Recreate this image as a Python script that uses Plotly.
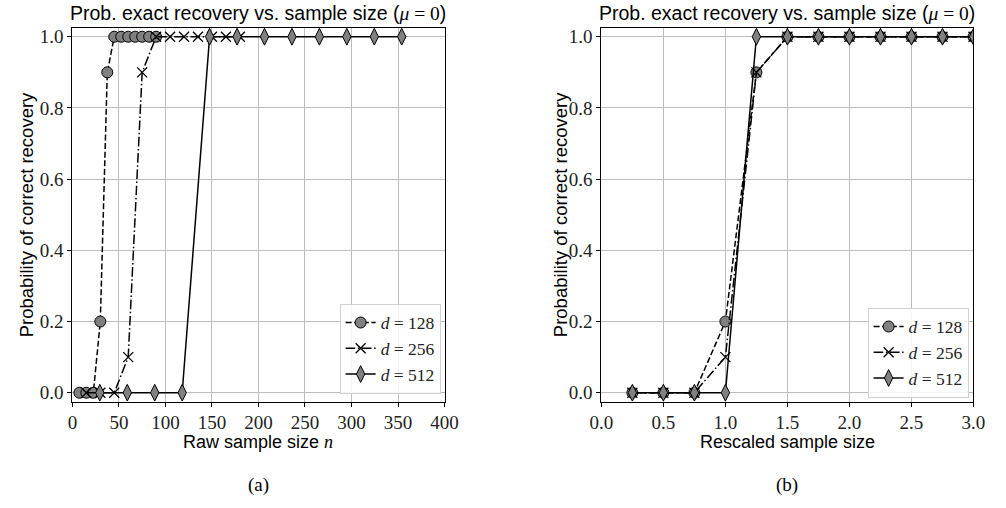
import plotly.graph_objects as go

# ---- data ----
rescaled = [0.25, 0.5, 0.75, 1.0, 1.25, 1.5, 1.75, 2.0, 2.25, 2.5, 2.75, 3.0]
n_128 = [7.5, 15, 22.5, 30, 37.5, 45, 52.5, 60, 67.5, 75, 82.5, 90]
n_256 = [15, 30, 45, 60, 75, 90, 105, 120, 135, 150, 165, 180]
n_512 = [29.5, 59, 88.5, 118, 147.5, 177, 206.5, 236, 265.5, 295, 324.5, 354]
p_128 = [0, 0, 0, 0.2, 0.9, 1, 1, 1, 1, 1, 1, 1]
p_256 = [0, 0, 0, 0.1, 0.9, 1, 1, 1, 1, 1, 1, 1]
p_512 = [0, 0, 0, 0, 1, 1, 1, 1, 1, 1, 1, 1]
labels = ["<i>d</i> = 128", "<i>d</i> = 256", "<i>d</i> = 512"]
x_ticks_left = [0, 50, 100, 150, 200, 250, 300, 350, 400]
x_ticks_right = [0.0, 0.5, 1.0, 1.5, 2.0, 2.5, 3.0]
y_ticks = [0.0, 0.2, 0.4, 0.6, 0.8, 1.0]

W, H = 1006, 508
SERIF = "Liberation Serif"
SANS = "Liberation Sans"

styles = [
    dict(dash="6px,2.6px", marker=dict(symbol="circle", size=11, color="#808080",
                                       line=dict(color="black", width=1))),
    dict(dash="9.6px,2.6px,1.5px,2.6px", marker=dict(symbol="x-thin", size=10, color="black",
                                                     line=dict(color="black", width=1.3))),
    dict(dash="solid", marker=dict(symbol="diamond-tall", size=12, color="#808080",
                                   line=dict(color="black", width=1))),
]

fig = go.Figure()
left_x = [n_128, n_256, n_512]
ys = [p_128, p_256, p_512]
for i in range(3):
    fig.add_trace(go.Scatter(x=left_x[i], y=ys[i], mode="lines+markers", name=labels[i],
                             line=dict(color="black", width=1.5, dash=styles[i]["dash"]),
                             marker=styles[i]["marker"], xaxis="x", yaxis="y", legend="legend"))
for i in range(3):
    fig.add_trace(go.Scatter(x=rescaled, y=ys[i], mode="lines+markers", name=labels[i],
                             line=dict(color="black", width=1.5, dash=styles[i]["dash"]),
                             marker=styles[i]["marker"], xaxis="x2", yaxis="y2", legend="legend2"))

def px_x(p):
    return p / W

def px_y(p):
    return 1 - p / H

L0, L1 = 62, 444
R0, R1 = 605, 987
T, B = 27, 403

axis_common = dict(showline=True, mirror=True, linecolor="black", linewidth=1,
                   ticks="outside", ticklen=4, tickcolor="black", tickwidth=1,
                   showgrid=True, gridcolor="#bdbdbd", gridwidth=1, zeroline=False,
                   tickfont=dict(family=SERIF, size=19, color="#222"))

legend_common = dict(xanchor="right", yanchor="bottom",
                     bgcolor="rgba(255,255,255,0.85)", bordercolor="#d0d0d0", borderwidth=1,
                     font=dict(family=SERIF, size=17.5, color="#222"), tracegroupgap=0)

fig.update_layout(
    width=W, height=H, margin=dict(l=0, r=0, t=0, b=0),
    paper_bgcolor="white", plot_bgcolor="white",
    xaxis=dict(domain=[px_x(L0), px_x(L1)], range=[0, 400], tickvals=x_ticks_left,
               anchor="y", **axis_common),
    yaxis=dict(domain=[px_y(B), px_y(T)], range=[-0.025, 1.025], tickvals=y_ticks,
               tickformat=".1f", anchor="x", **axis_common),
    xaxis2=dict(domain=[px_x(R0), px_x(R1)], range=[0, 3], tickvals=x_ticks_right,
                tickformat=".1f", anchor="y2", **axis_common),
    yaxis2=dict(domain=[px_y(B), px_y(T)], range=[-0.025, 1.025], tickvals=y_ticks,
                tickformat=".1f", anchor="x2", **axis_common),
    legend=dict(x=px_x(L1 - 4), y=px_y(B - 8), **legend_common),
    legend2=dict(x=px_x(R1 - 5), y=px_y(B - 4), **legend_common),
    showlegend=True,
)

title_txt = ("Prob. exact recovery vs. sample size (<span style='font-family:Liberation Serif'>"
             "<i>μ</i> = 0</span>)")
ann = []
for (a, b), xl, cap in [((L0, L1), "Raw sample size <span style='font-family:Liberation Serif'><i>n</i></span>", "(a)"),
                        ((R0, R1), "Rescaled sample size", "(b)")]:
    cx = px_x((a + b) / 2)
    ann.append(dict(text=title_txt, x=cx, y=px_y(12), xref="paper", yref="paper",
                    showarrow=False, xanchor="center", yanchor="middle",
                    font=dict(family=SANS, size=19.5, color="black")))
    ann.append(dict(text=xl, x=cx, y=px_y(444), xref="paper", yref="paper",
                    showarrow=False, xanchor="center", yanchor="middle",
                    font=dict(family=SANS, size=18, color="black")))
    ann.append(dict(text=cap, x=cx, y=px_y(487), xref="paper", yref="paper",
                    showarrow=False, xanchor="center", yanchor="middle",
                    font=dict(family=SERIF, size=19, color="black")))
for xc in (15, 563):
    ann.append(dict(text="Probability of correct recovery", x=px_x(xc), y=px_y((T + B) / 2),
                    xref="paper", yref="paper", showarrow=False, textangle=-90,
                    xanchor="center", yanchor="middle",
                    font=dict(family=SANS, size=18.5, color="black")))
fig.update_layout(annotations=ann)

fig.write_html("out.html")
